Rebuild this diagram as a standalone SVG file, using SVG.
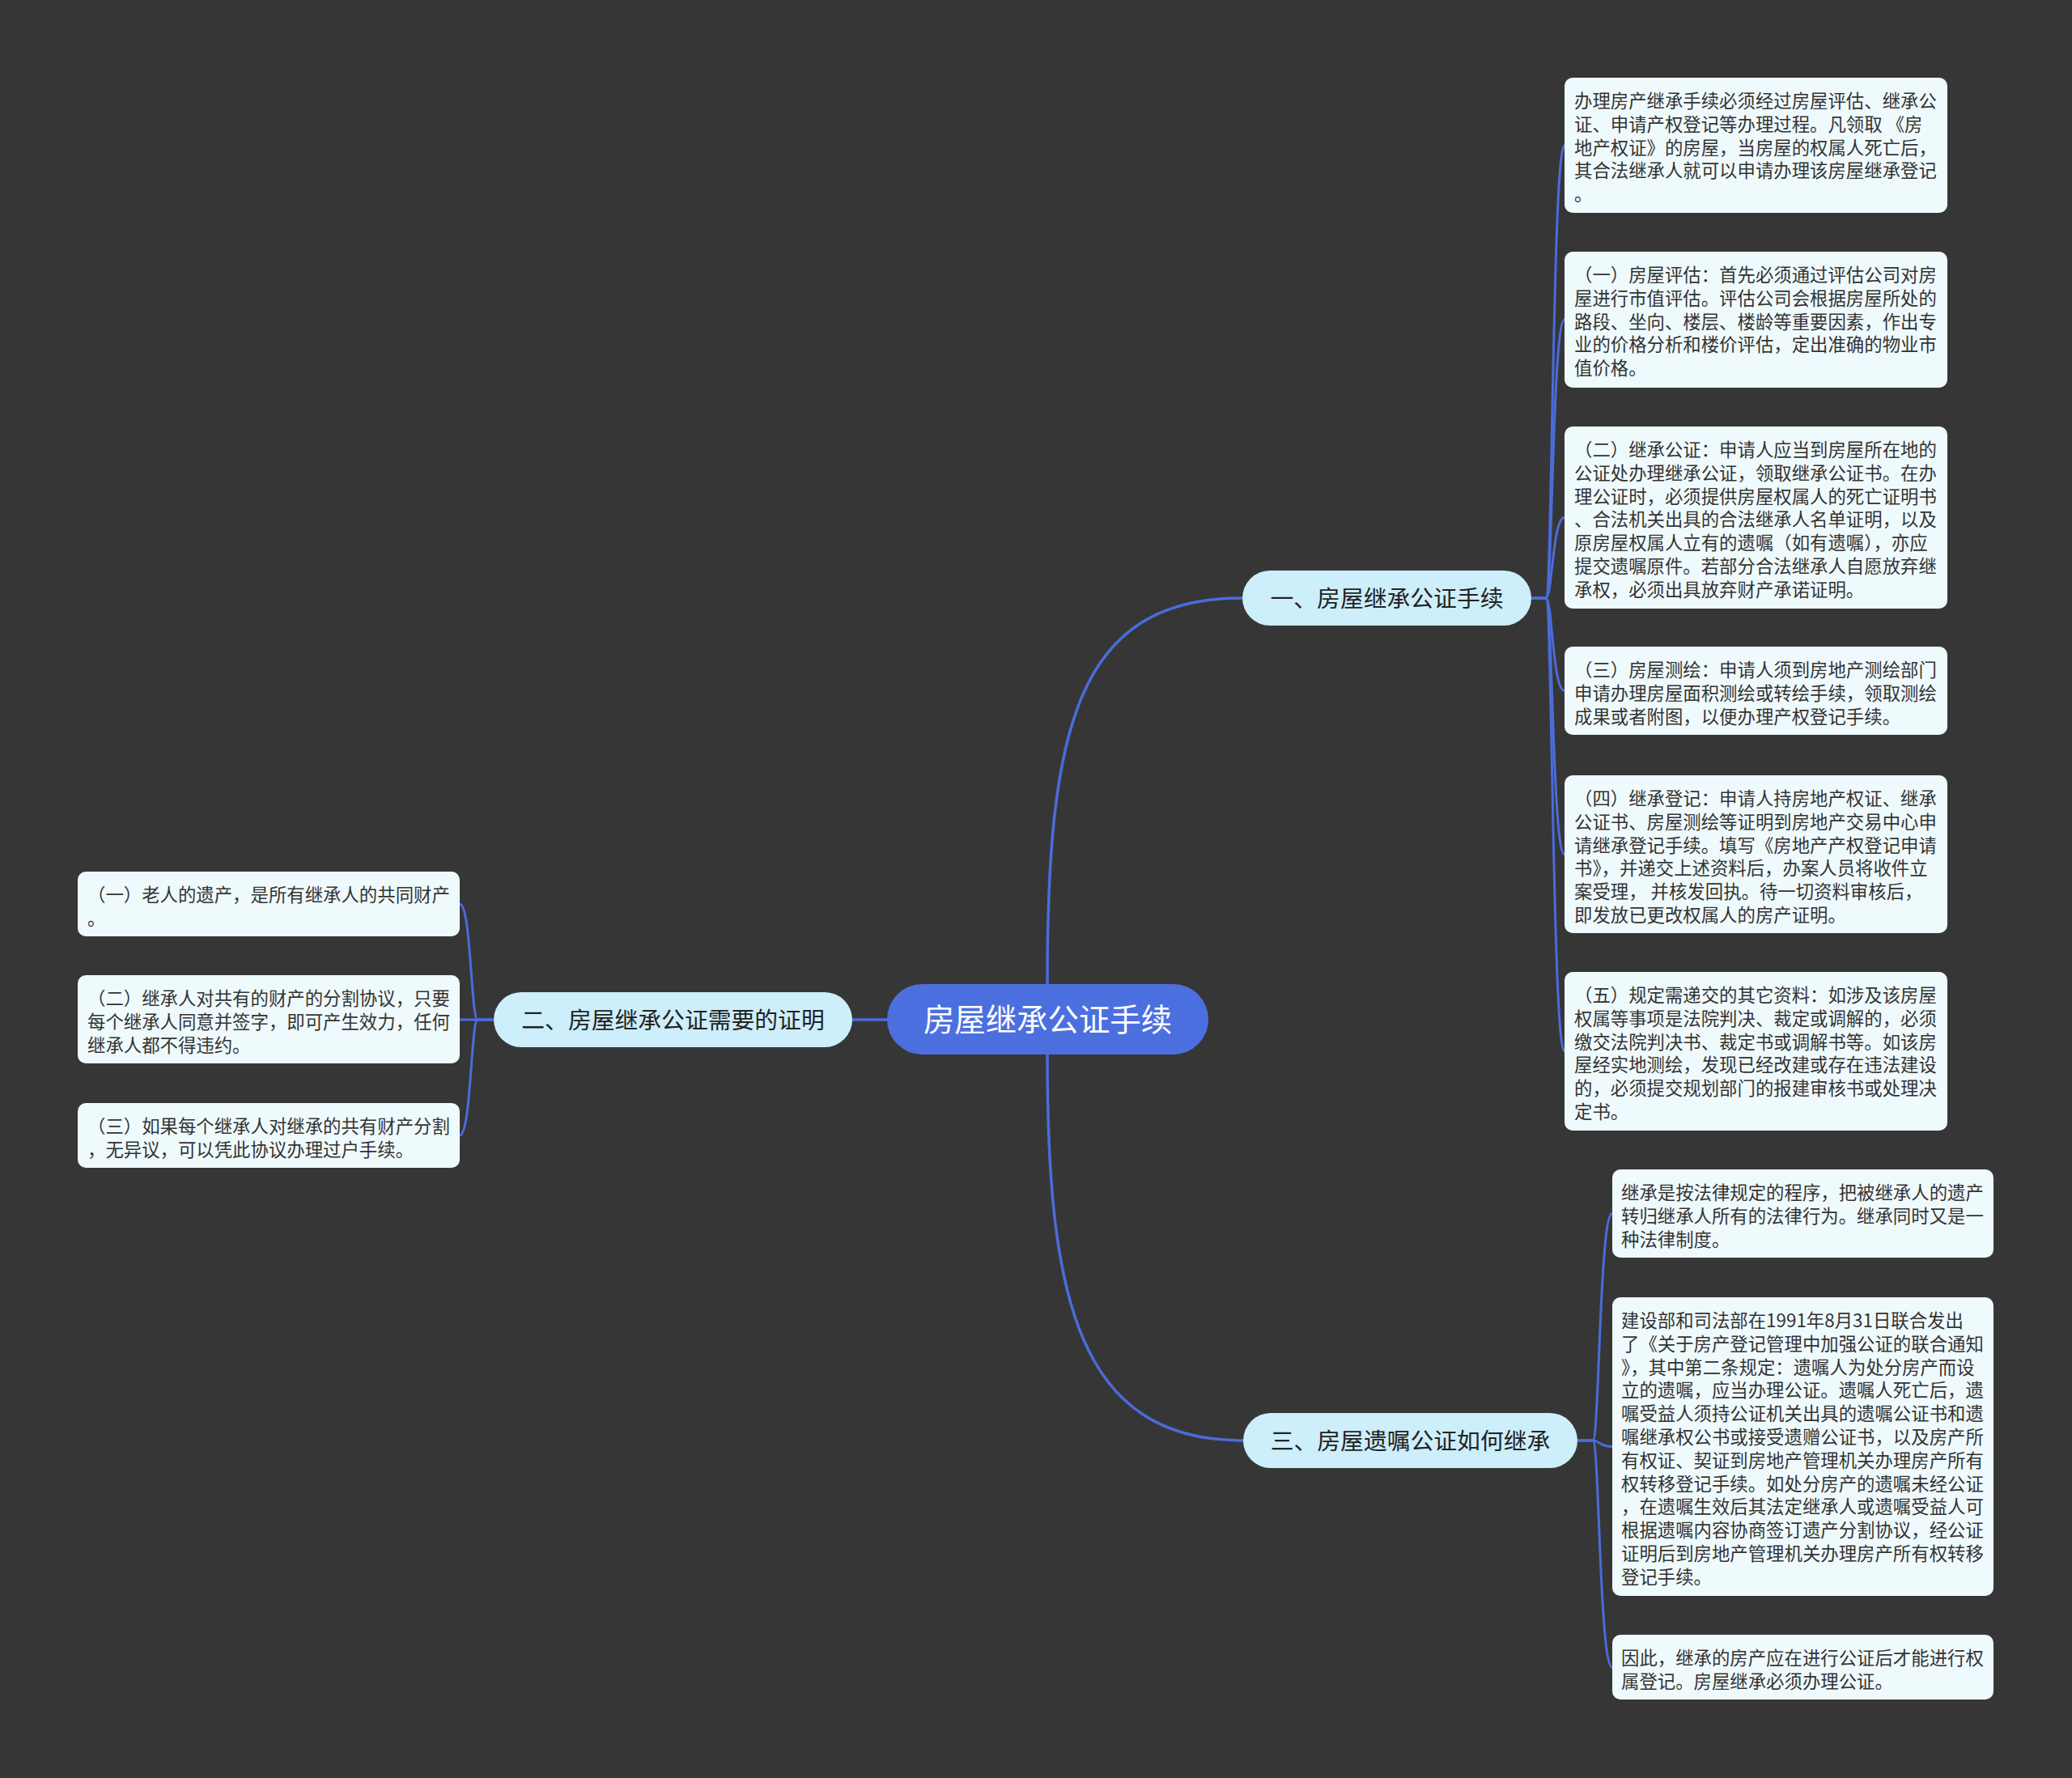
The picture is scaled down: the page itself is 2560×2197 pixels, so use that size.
<svg xmlns="http://www.w3.org/2000/svg" width="2560" height="2197" viewBox="0 0 2560 2197">
<style>
.leaf rect{fill:#effafd}
.leaf text{font-family:"Noto Sans CJK SC","Noto Sans",sans-serif;font-size:22.4px;fill:#333333}
.branch rect{fill:#cdeefb}
.branch text{font-family:"Noto Sans CJK SC","Noto Sans",sans-serif;font-size:28.8px;fill:#222222;text-anchor:middle}
.root rect{fill:#4c6fdf}
.root text{font-family:"Noto Sans CJK SC","Noto Sans",sans-serif;font-size:38.4px;fill:#ffffff;text-anchor:middle}
.conn path{fill:none;stroke:#4a6cdb;stroke-width:3.5;stroke-linecap:round}
.conn .thin{stroke-width:3}
</style>
<rect x="0" y="0" width="2560" height="2197" fill="#373636"/>
<g class="conn" id="connectors">
<path d="M1294,1240 L1294,1216 C1294,900 1330,739 1535,739"/>
<path d="M1294,1280 L1294,1303 C1294,1600 1330,1780 1536,1780"/>
<path d="M1096,1260 L1053,1260"/>
<path class="thin" d="M1892,739 L1910,739 C1918,739 1918,179.5 1933,179.5"/>
<path class="thin" d="M1892,739 L1910,739 C1918,739 1918,395 1933,395"/>
<path class="thin" d="M1892,739 L1910,739 C1918,739 1918,639.5 1933,639.5"/>
<path class="thin" d="M1892,739 L1910,739 C1918,739 1918,853.5 1933,853.5"/>
<path class="thin" d="M1892,739 L1910,739 C1918,739 1918,1055.5 1933,1055.5"/>
<path class="thin" d="M1892,739 L1910,739 C1918,739 1918,1299 1933,1299"/>
<path class="thin" d="M610,1260 L590,1260 C582,1260 582,1117 568,1117"/>
<path class="thin" d="M610,1260 L568,1260"/>
<path class="thin" d="M610,1260 L590,1260 C582,1260 582,1403 568,1403"/>
<path class="thin" d="M1949,1780 L1968,1780 C1976,1780 1976,1499.5 1992,1499.5"/>
<path class="thin" d="M1949,1780 L1968,1780 C1976,1780 1976,1787.5 1992,1787.5"/>
<path class="thin" d="M1949,1780 L1968,1780 C1976,1780 1976,2060 1992,2060"/>
</g>
<g class="root" id="root">
<rect x="1096" y="1216" width="397" height="87" rx="43.5"/>
<text x="1294.5" y="1273.5">房屋继承公证手续</text>
</g>
<g class="branch" id="b1">
<rect x="1535" y="705" width="357" height="68" rx="34"/>
<text x="1713.5" y="750">一、房屋继承公证手续</text>
</g>
<g class="branch" id="b2">
<rect x="610" y="1226" width="443" height="68" rx="34"/>
<text x="831.5" y="1271">二、房屋继承公证需要的证明</text>
</g>
<g class="branch" id="b3">
<rect x="1536" y="1746" width="413" height="68" rx="34"/>
<text x="1742.5" y="1791">三、房屋遗嘱公证如何继承</text>
</g>
<g class="leaf" id="l1">
<rect x="1933" y="96" width="473" height="167" rx="10"/>
<text><tspan x="1945" y="133">办理房产继承手续必须经过房屋评估、继承公</tspan><tspan x="1945" y="161.8">证、申请产权登记等办理过程。凡领取 《房</tspan><tspan x="1945" y="190.6">地产权证》的房屋，当房屋的权属人死亡后，</tspan><tspan x="1945" y="219.4">其合法继承人就可以申请办理该房屋继承登记</tspan><tspan x="1945" y="248.2">。</tspan></text>
</g>
<g class="leaf" id="l2">
<rect x="1933" y="311" width="473" height="168" rx="10"/>
<text><tspan x="1945" y="348">（一）房屋评估：首先必须通过评估公司对房</tspan><tspan x="1945" y="376.8">屋进行市值评估。评估公司会根据房屋所处的</tspan><tspan x="1945" y="405.6">路段、坐向、楼层、楼龄等重要因素，作出专</tspan><tspan x="1945" y="434.4">业的价格分析和楼价评估，定出准确的物业市</tspan><tspan x="1945" y="463.2">值价格。</tspan></text>
</g>
<g class="leaf" id="l3">
<rect x="1933" y="527" width="473" height="225" rx="10"/>
<text><tspan x="1945" y="564">（二）继承公证：申请人应当到房屋所在地的</tspan><tspan x="1945" y="592.8">公证处办理继承公证，领取继承公证书。在办</tspan><tspan x="1945" y="621.6">理公证时，必须提供房屋权属人的死亡证明书</tspan><tspan x="1945" y="650.4">、合法机关出具的合法继承人名单证明，以及</tspan><tspan x="1945" y="679.2">原房屋权属人立有的遗嘱（如有遗嘱），亦应</tspan><tspan x="1945" y="708">提交遗嘱原件。若部分合法继承人自愿放弃继</tspan><tspan x="1945" y="736.8">承权，必须出具放弃财产承诺证明。</tspan></text>
</g>
<g class="leaf" id="l4">
<rect x="1933" y="799" width="473" height="109" rx="10"/>
<text><tspan x="1945" y="836">（三）房屋测绘：申请人须到房地产测绘部门</tspan><tspan x="1945" y="864.8">申请办理房屋面积测绘或转绘手续，领取测绘</tspan><tspan x="1945" y="893.6">成果或者附图，以便办理产权登记手续。</tspan></text>
</g>
<g class="leaf" id="l5">
<rect x="1933" y="958" width="473" height="195" rx="10"/>
<text><tspan x="1945" y="995">（四）继承登记：申请人持房地产权证、继承</tspan><tspan x="1945" y="1023.8">公证书、房屋测绘等证明到房地产交易中心申</tspan><tspan x="1945" y="1052.6">请继承登记手续。填写《房地产产权登记申请</tspan><tspan x="1945" y="1081.4">书》，并递交上述资料后，办案人员将收件立</tspan><tspan x="1945" y="1110.2">案受理， 并核发回执。待一切资料审核后，</tspan><tspan x="1945" y="1139">即发放已更改权属人的房产证明。</tspan></text>
</g>
<g class="leaf" id="l6">
<rect x="1933" y="1201" width="473" height="196" rx="10"/>
<text><tspan x="1945" y="1238">（五）规定需递交的其它资料：如涉及该房屋</tspan><tspan x="1945" y="1266.8">权属等事项是法院判决、裁定或调解的，必须</tspan><tspan x="1945" y="1295.6">缴交法院判决书、裁定书或调解书等。如该房</tspan><tspan x="1945" y="1324.4">屋经实地测绘，发现已经改建或存在违法建设</tspan><tspan x="1945" y="1353.2">的，必须提交规划部门的报建审核书或处理决</tspan><tspan x="1945" y="1382">定书。</tspan></text>
</g>
<g class="leaf" id="a1">
<rect x="96" y="1077" width="472" height="80" rx="10"/>
<text><tspan x="108" y="1114">（一）老人的遗产，是所有继承人的共同财产</tspan><tspan x="108" y="1142.8">。</tspan></text>
</g>
<g class="leaf" id="a2">
<rect x="96" y="1205" width="472" height="109" rx="10"/>
<text><tspan x="108" y="1242">（二）继承人对共有的财产的分割协议，只要</tspan><tspan x="108" y="1270.8">每个继承人同意并签字，即可产生效力，任何</tspan><tspan x="108" y="1299.6">继承人都不得违约。</tspan></text>
</g>
<g class="leaf" id="a3">
<rect x="96" y="1363" width="472" height="80" rx="10"/>
<text><tspan x="108" y="1400">（三）如果每个继承人对继承的共有财产分割</tspan><tspan x="108" y="1428.8">，无异议，可以凭此协议办理过户手续。</tspan></text>
</g>
<g class="leaf" id="c1">
<rect x="1992" y="1445" width="471" height="109" rx="10"/>
<text><tspan x="2003" y="1482">继承是按法律规定的程序，把被继承人的遗产</tspan><tspan x="2003" y="1510.8">转归继承人所有的法律行为。继承同时又是一</tspan><tspan x="2003" y="1539.6">种法律制度。</tspan></text>
</g>
<g class="leaf" id="c2">
<rect x="1992" y="1603" width="471" height="369" rx="10"/>
<text><tspan x="2003" y="1640">建设部和司法部在1991年8月31日联合发出</tspan><tspan x="2003" y="1668.8">了《关于房产登记管理中加强公证的联合通知</tspan><tspan x="2003" y="1697.6">》，其中第二条规定：遗嘱人为处分房产而设</tspan><tspan x="2003" y="1726.4">立的遗嘱，应当办理公证。遗嘱人死亡后，遗</tspan><tspan x="2003" y="1755.2">嘱受益人须持公证机关出具的遗嘱公证书和遗</tspan><tspan x="2003" y="1784">嘱继承权公书或接受遗赠公证书，以及房产所</tspan><tspan x="2003" y="1812.8">有权证、契证到房地产管理机关办理房产所有</tspan><tspan x="2003" y="1841.6">权转移登记手续。如处分房产的遗嘱未经公证</tspan><tspan x="2003" y="1870.4">，在遗嘱生效后其法定继承人或遗嘱受益人可</tspan><tspan x="2003" y="1899.2">根据遗嘱内容协商签订遗产分割协议，经公证</tspan><tspan x="2003" y="1928">证明后到房地产管理机关办理房产所有权转移</tspan><tspan x="2003" y="1956.8">登记手续。</tspan></text>
</g>
<g class="leaf" id="c3">
<rect x="1992" y="2020" width="471" height="80" rx="10"/>
<text><tspan x="2003" y="2057">因此，继承的房产应在进行公证后才能进行权</tspan><tspan x="2003" y="2085.8">属登记。房屋继承必须办理公证。</tspan></text>
</g>
</svg>
